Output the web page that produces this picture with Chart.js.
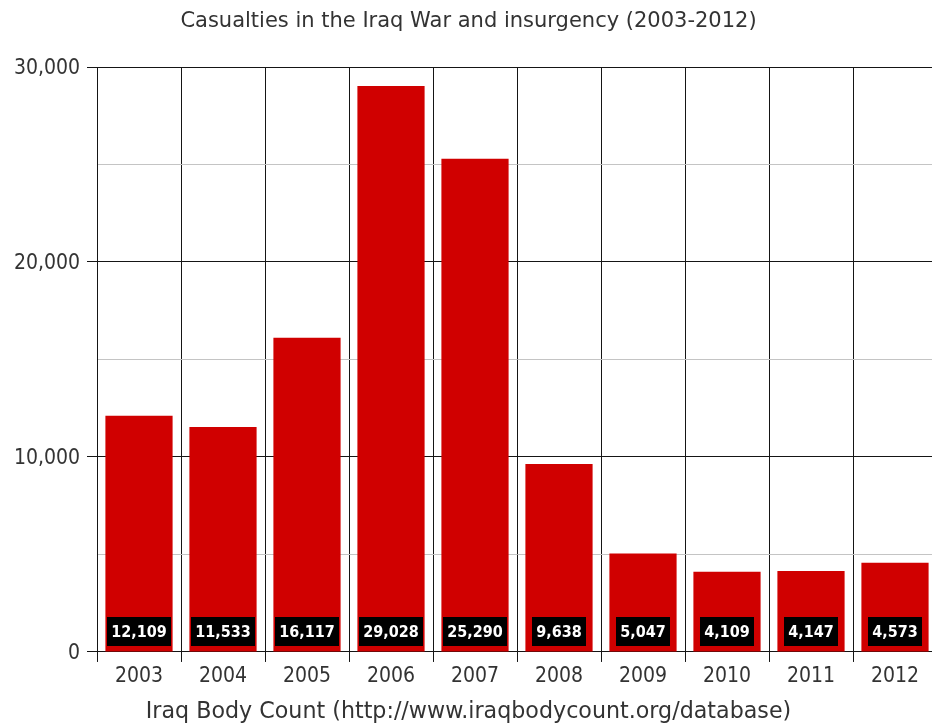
<!DOCTYPE html>
<html>
<head>
<meta charset="utf-8">
<script src="https://cdn.jsdelivr.net/npm/chart.js@4.4.0/dist/chart.umd.min.js"></script>
<style>
  html, body { margin: 0; padding: 0; background: #fff; overflow: hidden; }
  #wrap { width: 940px; height: 727px; }
</style>
</head>
<body>
<div id="wrap"><canvas id="c" width="940" height="727"></canvas></div>
<script>
const years = ['2003','2004','2005','2006','2007','2008','2009','2010','2011','2012'];
const casualties = [12109, 11533, 16117, 29028, 25290, 9638, 5047, 4109, 4147, 4573];
const yMax = 30000;
const yStep = 5000;
const yLabelStep = 10000;
const titleText = 'Casualties in the Iraq War and insurgency (2003-2012)';
const sourceText = 'Iraq Body Count (http://www.iraqbodycount.org/database)';

const FONT_C = "'DejaVu Sans Condensed', 'DejaVu Sans', sans-serif";
const FONT = "'DejaVu Sans', sans-serif";
const TXT = '#333333';
const LINE = '#151515';

const boxLabels = {
  id: 'boxLabels',
  afterDatasetsDraw(chart) {
    const ctx = chart.ctx;
    const meta = chart.getDatasetMeta(0);
    ctx.save();
    ctx.font = "bold 16px " + FONT_C;
    ctx.textAlign = 'center';
    ctx.textBaseline = 'middle';
    meta.data.forEach((bar, i) => {
      const txt = casualties[i].toLocaleString('en-US');
      const w = ctx.measureText(txt).width + 8;
      const h = 29;
      const bottom = bar.base - 5;
      ctx.fillStyle = '#000';
      ctx.fillRect(Math.round(bar.x - w / 2), Math.round(bottom - h), Math.round(w), h);
      ctx.fillStyle = '#fff';
      ctx.fillText(txt, bar.x, bottom - h / 2 + 1);
    });
    ctx.restore();
  }
};

new Chart(document.getElementById('c'), {
  type: 'bar',
  data: {
    labels: years,
    datasets: [{
      data: casualties,
      backgroundColor: '#d00000',
      borderWidth: 0,
      categoryPercentage: 1.0,
      barPercentage: 0.8
    }]
  },
  options: {
    responsive: false,
    animation: false,
    devicePixelRatio: 1,
    layout: { padding: { left: 0, right: 3, top: 0, bottom: 0 } },
    plugins: {
      legend: { display: false },
      tooltip: { enabled: false },
      title: {
        display: true,
        text: titleText,
        color: TXT,
        font: { family: FONT, size: 21, weight: 'normal', lineHeight: 1.2 },
        padding: { top: 9.4, bottom: 32.4 }
      },
      subtitle: {
        display: true,
        position: 'bottom',
        text: sourceText,
        color: TXT,
        font: { family: FONT, size: 22.2, weight: 'normal', lineHeight: 1.2 },
        padding: { top: 0, bottom: 1.7 }
      }
    },
    scales: {
      x: {
        grid: {
          display: true,
          offset: true,
          color: LINE,
          lineWidth: 1,
          tickLength: 10,
          tickColor: LINE
        },
        border: { display: true, color: LINE, width: 1 },
        ticks: {
          color: TXT,
          font: { family: FONT_C, size: 21 },
          padding: 2,
          maxRotation: 0
        },
        afterFit(s) { s.height = 46.7; }
      },
      y: {
        min: 0,
        max: yMax,
        grid: {
          color: (c) => (c.tick && c.tick.value % yLabelStep === 0) ? LINE : '#c4c4c4',
          tickColor: (c) => (c.tick && c.tick.value % yLabelStep === 0) ? LINE : 'rgba(0,0,0,0)',
          lineWidth: 1,
          tickLength: 10
        },
        border: { display: true, color: LINE, width: 1 },
        ticks: {
          stepSize: yStep,
          color: TXT,
          font: { family: FONT_C, size: 21 },
          padding: 7,
          labelOffset: 2,
          callback: (v) => (v % yLabelStep === 0) ? v.toLocaleString('en-US') : ''
        },
        afterFit(s) { s.width = 97; }
      }
    }
  },
  plugins: [boxLabels]
});
</script>
</body>
</html>
